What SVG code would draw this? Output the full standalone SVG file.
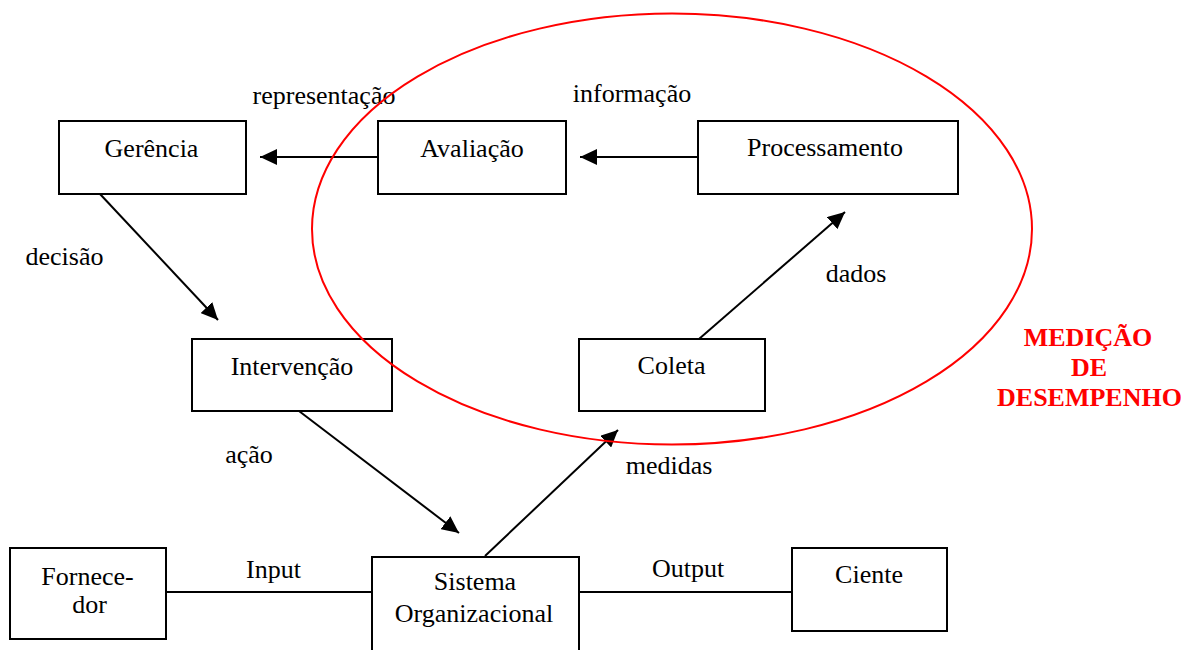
<svg xmlns="http://www.w3.org/2000/svg" width="1199" height="650" viewBox="0 0 1199 650">
<style>
.box{fill:#fff;stroke:#000;stroke-width:2}
.t{font-family:"Liberation Serif","Times New Roman",serif;font-size:26px;fill:#000;text-anchor:middle}
.r{font-family:"Liberation Serif","Times New Roman",serif;font-size:26px;font-weight:bold;fill:#ff0000;text-anchor:middle}
.c{stroke:#000;stroke-width:2;fill:none}
.a{marker-end:url(#ah)}
</style>
<defs>
<marker id="ah" markerUnits="userSpaceOnUse" markerWidth="18" markerHeight="16" refX="17" refY="8" orient="auto">
<path d="M0,0 L17,8 L0,16 Z" fill="#000"/>
</marker>
</defs>
<g id="connectors">
<line class="c a" x1="378" y1="157" x2="260" y2="157"/>
<line class="c a" x1="698" y1="157" x2="580" y2="157"/>
<line class="c a" x1="100" y1="194" x2="218" y2="320"/>
<line class="c a" x1="299" y1="411" x2="459" y2="533"/>
<line class="c a" x1="485" y1="556" x2="618" y2="430"/>
<line class="c a" x1="699" y1="339" x2="845" y2="212"/>
<line class="c" x1="166" y1="592" x2="372" y2="592"/>
<line class="c" x1="579" y1="592" x2="792" y2="592"/>
</g>
<g id="labels">
<text class="t" x="324" y="104">representação</text>
<text class="t" x="632" y="102">informação</text>
<text class="t" x="64.5" y="265">decisão</text>
<text class="t" x="856" y="282">dados</text>
<text class="t" x="249" y="463">ação</text>
<text class="t" x="669" y="474">medidas</text>
<text class="t" x="273.5" y="578">Input</text>
<text class="t" x="688" y="577">Output</text>
</g>
<g id="gerencia"><rect class="box" x="59" y="121" width="187" height="73"/><text class="t" x="151.5" y="157">Gerência</text></g>
<g id="avaliacao"><rect class="box" x="378" y="121" width="188" height="73"/><text class="t" x="472" y="157">Avaliação</text></g>
<g id="processamento"><rect class="box" x="698" y="121" width="260" height="73"/><text class="t" x="825" y="156">Processamento</text></g>
<g id="intervencao"><rect class="box" x="192" y="339" width="200" height="72"/><text class="t" x="292" y="375">Intervenção</text></g>
<g id="coleta"><rect class="box" x="579" y="339" width="186" height="72"/><text class="t" x="671.5" y="374">Coleta</text></g>
<g id="fornecedor"><rect class="box" x="10" y="548" width="156" height="91"/><text class="t" x="87.5" y="585">Fornece-</text><text class="t" x="89.5" y="613">dor</text></g>
<g id="sistema"><rect class="box" x="372" y="557" width="207" height="100"/><text class="t" x="475" y="590">Sistema</text><text class="t" x="474" y="622">Organizacional</text></g>
<g id="ciente"><rect class="box" x="792" y="548" width="155" height="83"/><text class="t" x="869" y="583">Ciente</text></g>
<g id="medicao">
<ellipse cx="672" cy="229" rx="360" ry="215.5" fill="none" stroke="#ff0000" stroke-width="2"/>
<text class="r" x="1088" y="346">MEDIÇÃO</text>
<text class="r" x="1089" y="376">DE</text>
<text class="r" x="1089.5" y="406">DESEMPENHO</text>
</g>
</svg>
